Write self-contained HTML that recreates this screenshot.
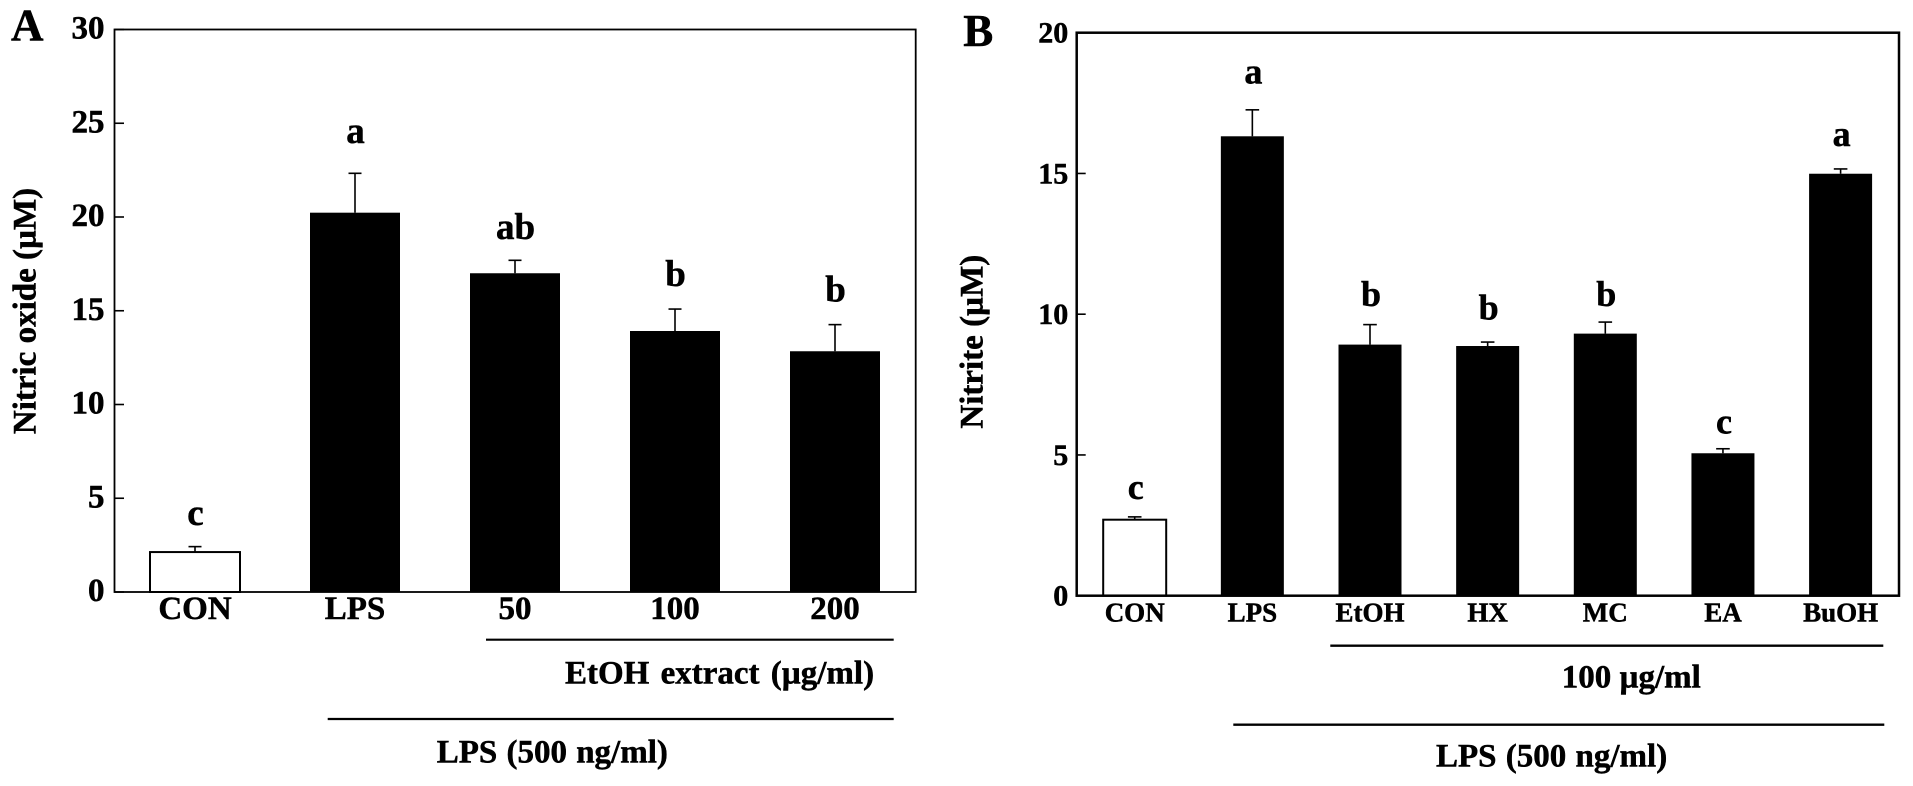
<!DOCTYPE html>
<html lang="en">
<head>
<meta charset="utf-8">
<title>Nitric oxide and nitrite bar charts</title>
<style>
  html, body { margin: 0; padding: 0; background: #fff; }
  svg { display: block; }
  text { font-family: "Liberation Serif", serif; font-weight: 700; fill: #000; stroke: #000; stroke-width: 0.5px; }
</style>
</head>
<body>
<svg id="figure" xmlns="http://www.w3.org/2000/svg" width="1913" height="786" viewBox="0 0 1913 786">
  <rect x="0" y="0" width="1913" height="786" fill="#fff"/>
  <g id="panel-a">
    <text x="11" y="40.7" font-size="45">A</text>
    <text transform="translate(35.7 311) rotate(-90)" text-anchor="middle" font-size="33">Nitric oxide (µM)</text>
    <line x1="486" x2="893.7" y1="639.7" y2="639.7" stroke="#000" stroke-width="2.2"/>
    <text x="565" y="683.3" font-size="33" word-spacing="3">EtOH extract (µg/ml)</text>
    <line x1="327.7" x2="893.7" y1="719" y2="719" stroke="#000" stroke-width="2.2"/>
    <text x="436.7" y="762.3" font-size="33" word-spacing="1">LPS (500 ng/ml)</text>
  </g>
  <g id="panel-b">
    <text x="963.3" y="46" font-size="45">B</text>
    <text transform="translate(982.7 341.7) rotate(-90)" text-anchor="middle" font-size="33">Nitrite (µM)</text>
    <line x1="1330.3" x2="1883.3" y1="645.7" y2="645.7" stroke="#000" stroke-width="2.4"/>
    <text x="1561.7" y="687.7" font-size="33">100 µg/ml</text>
    <line x1="1233.3" x2="1884.3" y1="724.7" y2="724.7" stroke="#000" stroke-width="2.4"/>
    <text x="1436" y="766.7" font-size="33" word-spacing="1">LPS (500 ng/ml)</text>
  </g>
</svg>
<script>
// Panel A data
const panelACategories = ['CON', 'LPS', '50', '100', '200'];
const panelAValues = [2.13, 20.23, 17.0, 13.92, 12.84];
const panelAErrorTops = [2.42, 22.33, 17.69, 15.09, 14.26];
const panelALetters = ['c', 'a', 'ab', 'b', 'b'];
const panelALetterGaps = [1.16, 1.62, 1.15, 1.23, 1.23];
const panelATicks = [0, 5, 10, 15, 20, 25, 30];

// Panel B data
const panelBCategories = ['CON', 'LPS', 'EtOH', 'HX', 'MC', 'EA', 'BuOH'];
const panelBValues = [2.70, 16.32, 8.92, 8.87, 9.31, 5.06, 14.99];
const panelBErrorTops = [2.80, 17.26, 9.63, 9.01, 9.72, 5.22, 15.16];
const panelBLetters = ['c', 'a', 'b', 'b', 'b', 'c', 'a'];
const panelBLetterGaps = [0.64, 0.94, 0.66, 0.81, 0.57, 0.55, 0.82];
const panelBTicks = [0, 5, 10, 15, 20];

const SVG_NS = 'http://www.w3.org/2000/svg';

function mk(parent, tag, props) {
  const node = document.createElementNS(SVG_NS, tag);
  Object.keys(props).forEach(function (k) { node.setAttribute(k, props[k]); });
  parent.appendChild(node);
  return node;
}

function drawPanel(id, data, layout) {
  const root = document.getElementById(id);
  const yScale = function (v) {
    return layout.bottom - (v / layout.yMax) * (layout.bottom - layout.top);
  };
  const xScale = function (i) {
    return layout.firstCenter + layout.step * i;
  };

  data.ticks.forEach(function (t) {
    const tick = mk(root, 'line', {
      x1: layout.left, x2: layout.left + layout.tickLength,
      y1: yScale(t), y2: yScale(t), stroke: '#000', 'stroke-width': 1.6
    });
    
    
    const label = mk(root, 'text', {
      x: layout.tickLabelRight, y: yScale(t) + layout.tickLabelDy,
      'text-anchor': 'end', 'font-size': layout.tickFont
    });
    label.textContent = String(t);
    
    
  });

  data.categories.forEach(function (cat, i) {
    const cx = xScale(i);
    const topY = yScale(data.values[i]);
    const errY = yScale(data.errorTops[i]);
    const half = layout.barWidth / 2;

    const stem = mk(root, 'line', {
      x1: cx, x2: cx, y1: errY, y2: topY, stroke: '#000', 'stroke-width': 1.6
    });
    
    

    const cap = mk(root, 'line', {
      x1: cx - layout.capHalf, x2: cx + layout.capHalf, y1: errY, y2: errY,
      stroke: '#000', 'stroke-width': 1.6
    });
    
    

    const isControl = i === 0;
    const bar = mk(root, 'rect', {
      x: cx - half, y: topY, width: layout.barWidth, height: layout.bottom - topY,
      fill: isControl ? '#fff' : '#000', stroke: '#000',
      'stroke-width': isControl ? 2 : 0
    });
    
    

    const letter = mk(root, 'text', {
      x: cx + layout.letterDx, y: yScale(data.errorTops[i] + data.letterGaps[i]),
      'text-anchor': 'middle', 'font-size': layout.letterFont
    });
    letter.textContent = data.letters[i];
    
    

    const catLabel = mk(root, 'text', {
      x: cx, y: layout.catBaseline, 'text-anchor': 'middle', 'font-size': layout.catFont
    });
    catLabel.textContent = cat;
    
    
  });

  const frame = mk(root, 'rect', {
    x: layout.left, y: layout.top,
    width: layout.right - layout.left, height: layout.bottom - layout.top,
    fill: 'none', stroke: '#000', 'stroke-width': layout.frameWidth
  });
  
  
}

drawPanel('panel-a', {
  categories: panelACategories,
  values: panelAValues,
  errorTops: panelAErrorTops,
  letters: panelALetters,
  letterGaps: panelALetterGaps,
  ticks: panelATicks
}, {
  left: 114.5, right: 915.7, top: 29.5, bottom: 592, yMax: 30,
  firstCenter: 195, step: 160, barWidth: 90, capHalf: 6.5,
  tickLength: 9.5, tickLabelRight: 104.5, tickLabelDy: 9, tickFont: 33,
  letterFont: 37, letterDx: 0.5, catFont: 33, catBaseline: 619, frameWidth: 1.8
});

drawPanel('panel-b', {
  categories: panelBCategories,
  values: panelBValues,
  errorTops: panelBErrorTops,
  letters: panelBLetters,
  letterGaps: panelBLetterGaps,
  ticks: panelBTicks
}, {
  left: 1076.7, right: 1899, top: 32.7, bottom: 595.7, yMax: 20,
  firstCenter: 1134.7, step: 117.65, barWidth: 63, capHalf: 6.8,
  tickLength: 9, tickLabelRight: 1068.3, tickLabelDy: 10, tickFont: 30,
  letterFont: 36, letterDx: 1, catFont: 27, catBaseline: 621.7, frameWidth: 2.5
});
</script>
</body>
</html>
